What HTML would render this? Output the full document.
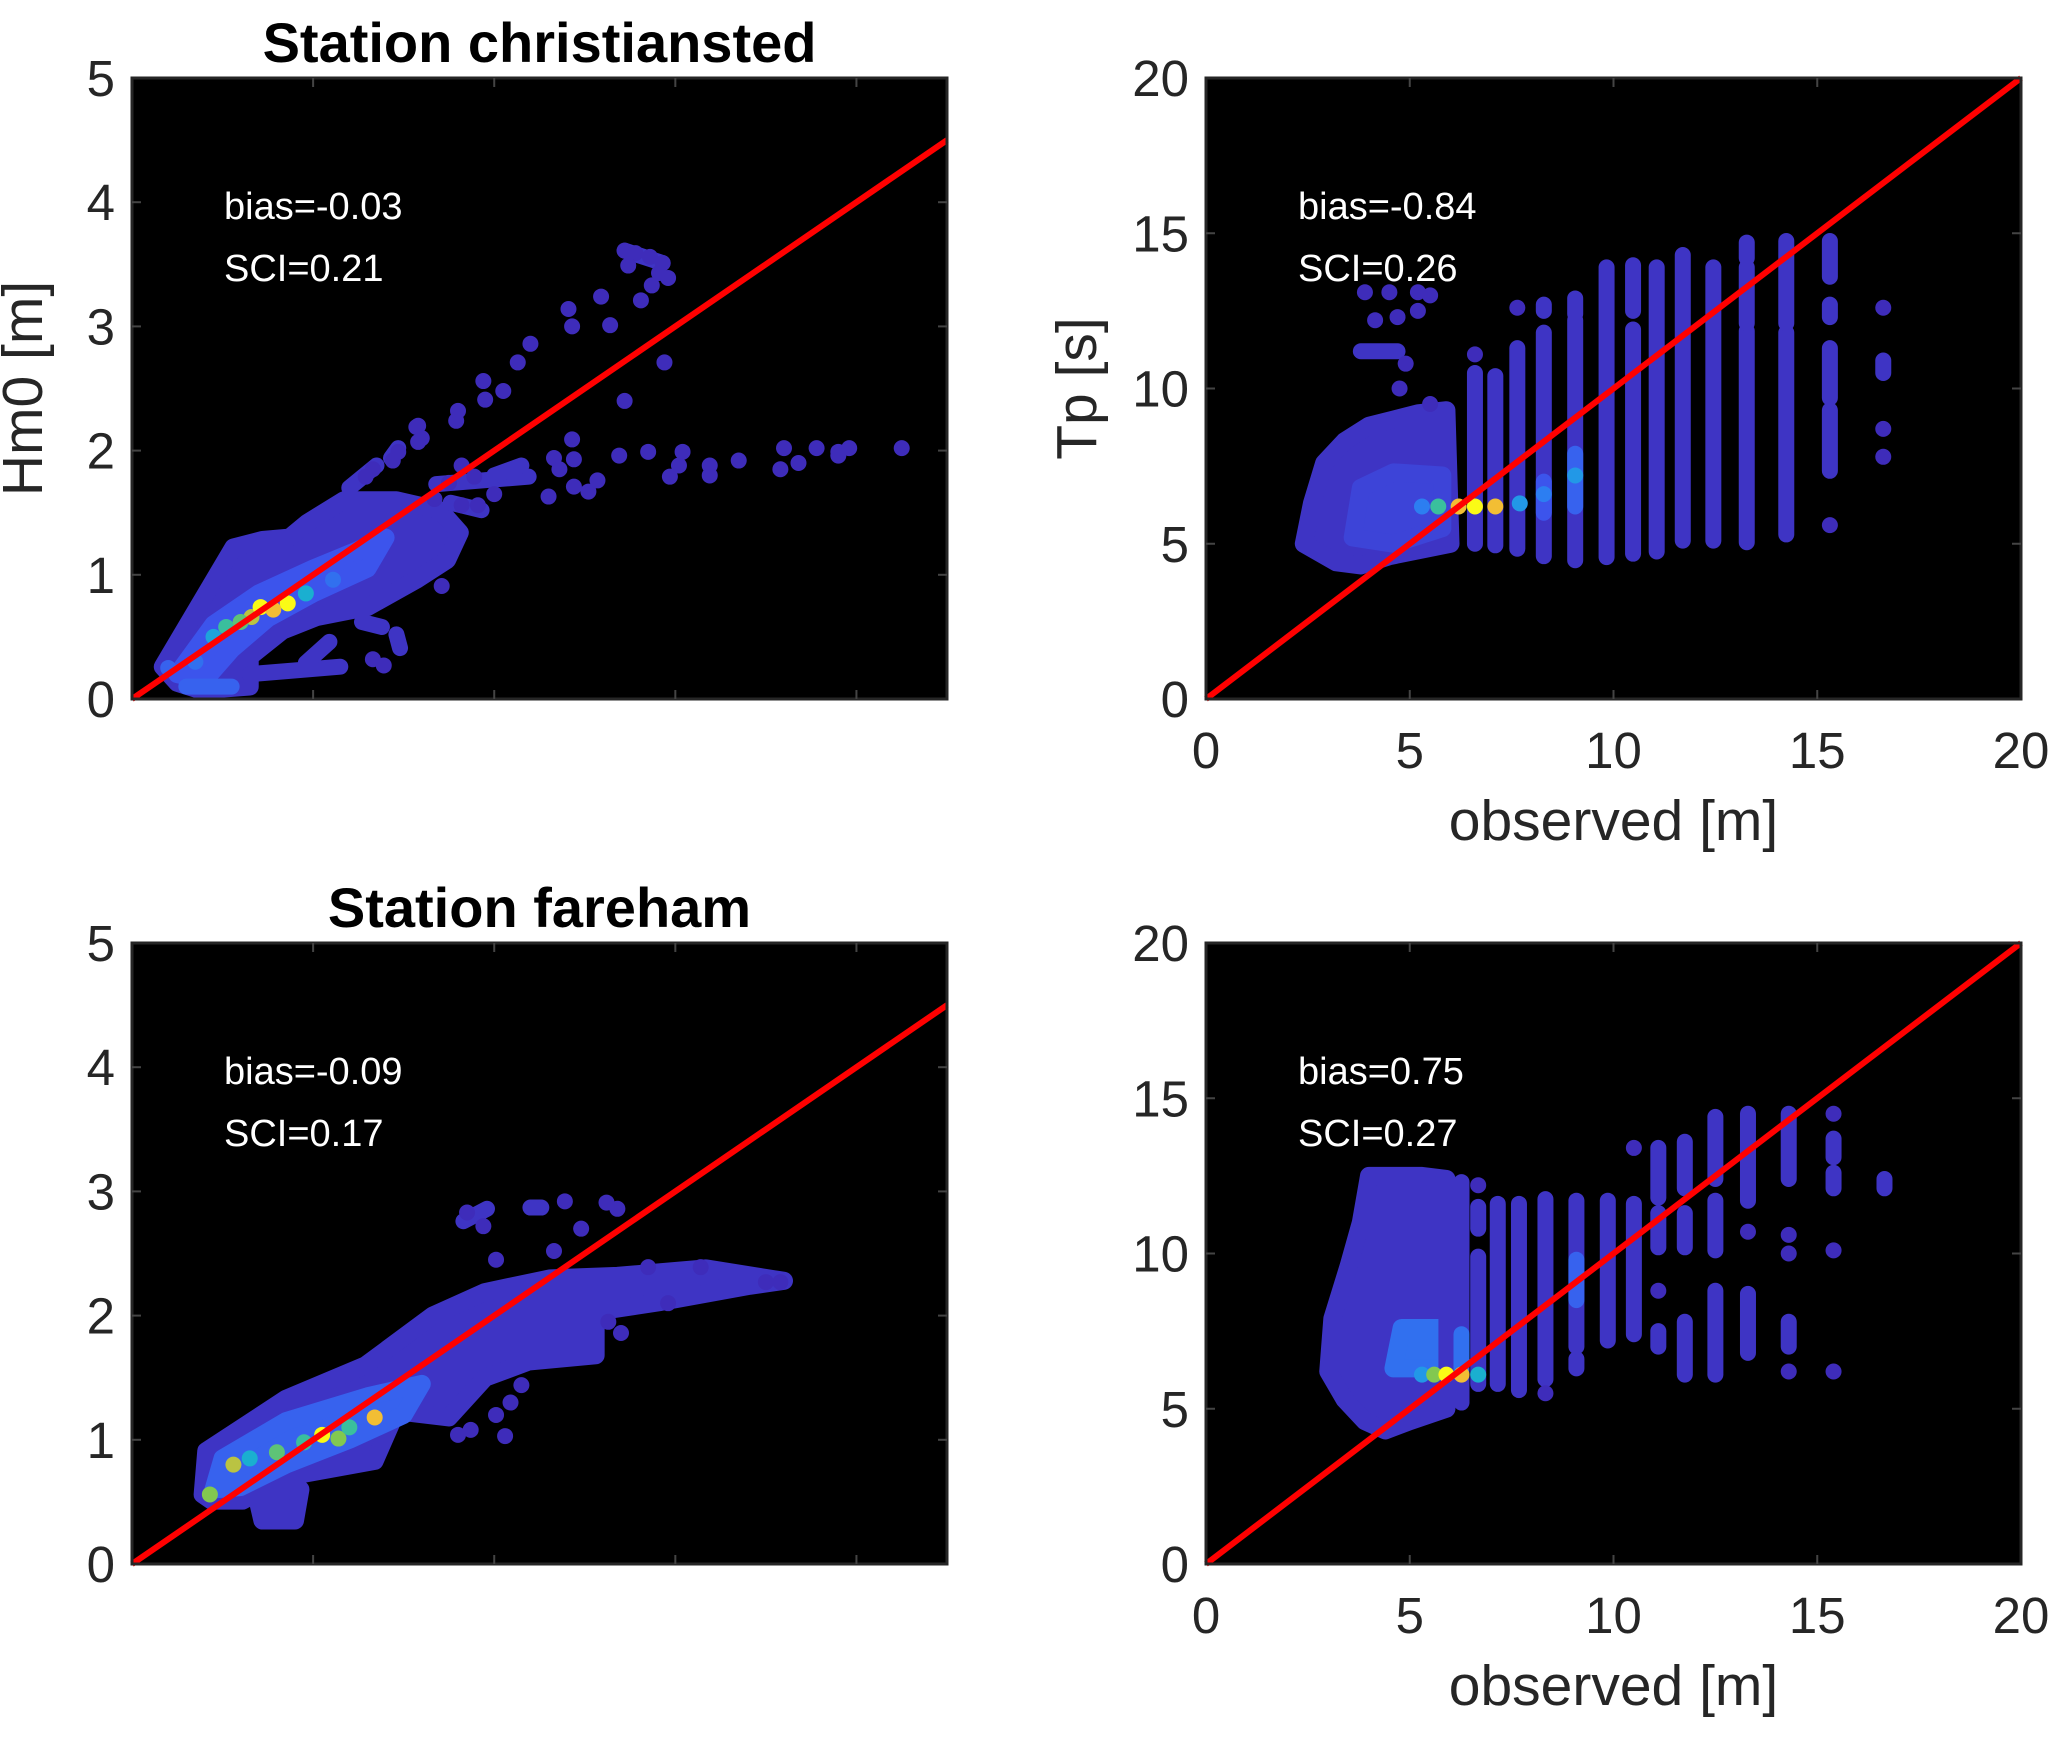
<!DOCTYPE html>
<html><head><meta charset="utf-8">
<style>
html,body{margin:0;padding:0;background:#fff;}
svg{display:block;font-family:"Liberation Sans",Arial,sans-serif;}
</style></head>
<body>
<svg id="fig" width="2067" height="1738" viewBox="0 0 2067 1738" xmlns="http://www.w3.org/2000/svg">
<rect x="0" y="0" width="2067" height="1738" fill="#fff"/>
</svg>
<script>
// ---------- data: top-left (Hm0, christiansted) ----------
const tlAreas = [
  [[0.17,0.26],[0.43,0.9],[0.56,1.22],[0.72,1.28],[0.87,1.3],[0.97,1.42],[1.17,1.6],[1.46,1.6],[1.7,1.52],[1.81,1.34],[1.74,1.12],[1.57,0.96],[1.3,0.74],[1.02,0.66],[0.83,0.55],[0.65,0.34],[0.65,0.1],[0.38,0.07],[0.25,0.13]],
];
const tlAreaC = [0.05];
const tlInner = [[[0.25,0.2],[0.45,0.6],[0.7,0.85],[1.0,1.05],[1.25,1.2],[1.4,1.3],[1.3,1.05],[1.0,0.85],[0.75,0.65],[0.55,0.4],[0.4,0.15]]];
const tlInnerC = [0.25];
const tlRuns = [
  [0.65,0.2,1.15,0.26,0.05],[0.96,0.29,1.09,0.46,0.05],[1.46,0.52,1.48,0.41,0.05],[1.27,0.62,1.38,0.58,0.05],
  [1.2,1.7,1.35,1.88,0.05],[1.43,1.94,1.47,2.02,0.05],[1.68,1.73,2.19,1.79,0.05],[1.76,1.58,1.93,1.52,0.05],
  [0.3,0.1,0.55,0.1,0.3],[2.72,3.61,2.93,3.51,0.05],[2.0,1.8,2.15,1.88,0.05]
];
const tlPts = [
  [2.72,3.61,0],[2.78,3.59,0],[2.74,3.49,0],[2.86,3.56,0],[2.93,3.51,0],[2.91,3.43,0],[2.96,3.39,0],[2.87,3.33,0],[2.81,3.21,0],
  [2.59,3.24,0],[2.41,3.14,0],[2.43,3.0,0],[2.64,3.01,0],[2.94,2.71,0],[2.72,2.4,0],[2.2,2.86,0],[2.13,2.71,0],[1.94,2.56,0],
  [1.95,2.41,0],[2.05,2.48,0],[1.8,2.32,0],[1.79,2.24,0],[1.57,2.19,0],[1.6,2.1,0],[1.47,1.99,0],[1.44,1.92,0],[1.33,1.85,0],[1.29,1.79,0],
  [2.43,2.09,0],[2.44,1.93,0],[2.33,1.94,0],[2.36,1.85,0],[2.3,1.63,0],[2.44,1.71,0],[2.52,1.67,0],[2.57,1.76,0],[2.69,1.96,0],
  [2.85,1.99,0],[3.04,1.99,0],[3.02,1.88,0],[2.97,1.79,0],[3.19,1.88,0],[3.19,1.8,0],[3.35,1.92,0],[3.58,1.85,0],[3.6,2.02,0],
  [3.68,1.9,0],[3.78,2.02,0],[3.9,1.99,0],[3.96,2.02,0],[4.25,2.02,0],[3.9,1.96,0],[1.82,1.88,0],[1.89,1.79,0],[1.75,1.74,0],
  [1.82,1.56,0],[1.91,1.56,0],[2.0,1.65,0],[1.67,1.61,0],[1.71,0.91,0],[1.39,0.27,0],[1.33,0.32,0],[1.58,2.07,0],[1.58,2.2,0],
  [0.52,0.58,0.7],[0.66,0.66,0.85],[0.71,0.74,1],[0.86,0.77,1],[0.78,0.72,0.9],[0.96,0.85,0.6],[1.11,0.96,0.35],[0.45,0.5,0.55],[0.6,0.62,0.75],[0.2,0.25,0.3],[0.35,0.3,0.35]
];
// ---------- data: top-right (Tp, christiansted) ----------
const trAreas = [[[2.4,5.0],[2.6,6.3],[2.9,7.6],[3.4,8.3],[4.0,8.8],[4.6,9.0],[5.2,9.2],[5.9,9.3],[6.0,5.0],[4.5,4.6],[3.8,4.3],[3.2,4.4]]];
const trAreaC = [0.05];
const trInner = [[[3.6,5.2],[3.8,6.8],[4.6,7.3],[5.8,7.2],[5.8,5.5],[4.6,5.0]]];
const trInnerC = [0.15];
const trRuns = [
  [6.6,5.0,6.6,10.5,0.05],[7.1,4.95,7.1,10.4,0.05],[7.64,4.84,7.64,11.3,0.05],[8.29,4.6,8.29,11.8,0.05],[8.29,12.5,8.29,12.7,0.05],
  [9.06,4.47,9.06,12.2,0.05],[9.06,12.4,9.06,12.9,0.05],[9.83,4.57,9.83,13.9,0.05],[10.48,4.68,10.48,11.9,0.05],[10.48,12.5,10.48,13.97,0.05],
  [11.06,4.75,11.06,13.9,0.05],[11.7,5.1,11.7,14.3,0.05],[12.45,5.1,12.45,13.9,0.05],[13.27,5.05,13.27,11.85,0.05],[13.27,12.1,13.27,13.9,0.05],
  [13.27,14.2,13.27,14.7,0.05],[14.24,5.3,14.24,11.8,0.05],[14.24,12.1,14.24,14.75,0.05],[15.31,13.6,15.31,14.75,0.05],[15.31,9.7,15.31,11.3,0.05],
  [15.31,7.35,15.31,9.3,0.05],[15.31,12.3,15.31,12.7,0.05],[16.62,10.5,16.62,10.9,0.05],[3.8,11.2,4.7,11.2,0.05],[9.06,6.2,9.06,7.9,0.3],[8.29,6.0,8.29,7.0,0.25]
];
const trPts = [
  [6.6,11.1,0],[7.64,12.6,0],[4.9,10.8,0],[4.75,10.0,0],[5.5,9.5,0],[4.7,12.3,0],[3.9,13.1,0],[4.5,13.1,0],[5.2,13.1,0],[5.5,13.0,0],
  [4.15,12.2,0],[5.2,12.5,0],[16.62,12.6,0],[16.62,8.7,0],[16.62,7.8,0],[15.31,5.6,0],
  [5.3,6.2,0.4],[5.7,6.2,0.7],[6.2,6.2,0.9],[6.6,6.2,1],[7.1,6.2,0.9],[7.7,6.3,0.5],[8.29,6.6,0.4],[9.06,7.2,0.5]
];
// ---------- data: bottom-left (Hm0, fareham) ----------
const blAreas = [
  [[0.39,0.56],[0.41,0.91],[0.85,1.33],[1.29,1.6],[1.66,2.0],[1.95,2.19],[2.31,2.3],[2.68,2.32],[3.17,2.38],[3.6,2.28],[3.41,2.24],[2.92,2.11],[2.56,2.03],[2.56,1.68],[2.19,1.63],[1.95,1.5],[1.75,1.18],[1.46,1.23],[1.34,0.83],[0.85,0.7],[0.61,0.51],[0.44,0.51]],
  [[0.68,0.6],[0.93,0.6],[0.9,0.35],[0.72,0.35]]
];
const blAreaC = [0.05,0.05];
const blInner = [[[0.45,0.6],[0.5,0.85],[0.85,1.15],[1.3,1.35],[1.6,1.45],[1.5,1.2],[1.2,1.0],[0.85,0.8],[0.6,0.62]]];
const blInnerC = [0.3];
const blRuns = [[1.83,2.76,1.96,2.86,0.05],[2.2,2.87,2.26,2.87,0.05]];
const blPts = [
  [1.85,2.83,0],[1.94,2.72,0],[2.39,2.92,0],[2.62,2.91,0],[2.68,2.86,0],[2.48,2.7,0],[2.33,2.52,0],[2.01,2.45,0],[2.85,2.39,0],
  [3.14,2.39,0],[3.58,2.27,0],[3.5,2.27,0],[2.7,1.86,0],[2.63,1.95,0],[2.06,1.03,0],[2.01,1.2,0],[1.8,1.04,0],[1.87,1.08,0],[2.09,1.3,0],[2.15,1.44,0],[2.96,2.1,0],
  [0.43,0.56,0.8],[0.56,0.8,0.85],[0.8,0.9,0.75],[1.05,1.04,1],[1.14,1.01,0.8],[1.34,1.18,0.9],[0.95,0.98,0.7],[1.2,1.1,0.7],[0.65,0.85,0.6]
];
// ---------- data: bottom-right (Tp, fareham) ----------
const brAreas = [[[3.0,6.2],[3.1,7.9],[3.5,9.6],[3.8,11.0],[4.0,12.5],[5.3,12.5],[5.9,12.4],[5.9,5.0],[5.0,4.6],[4.4,4.3],[3.9,4.6],[3.4,5.3]]];
const brAreaC = [0.05];
const brInner = [[[4.6,6.3],[4.8,7.6],[5.9,7.6],[5.9,6.3]]];
const brInnerC = [0.35];
const brRuns = [
  [5.9,5.6,5.9,12.4,0.05],[6.27,5.2,6.27,12.3,0.05],[6.68,10.8,6.68,11.5,0.05],[6.68,5.8,6.68,9.9,0.05],[7.16,5.8,7.16,11.6,0.05],
  [7.68,5.6,7.68,11.6,0.05],[8.33,5.95,8.33,11.75,0.05],[9.09,7.0,9.09,11.7,0.05],[9.09,6.3,9.09,6.6,0.05],[9.86,7.2,9.86,11.7,0.05],
  [10.5,7.4,10.5,11.6,0.05],[11.1,11.8,11.1,13.4,0.05],[11.1,10.2,11.1,11.3,0.05],[11.1,7.0,11.1,7.5,0.05],[11.75,12.1,11.75,13.6,0.05],
  [11.75,10.2,11.75,11.3,0.05],[11.75,6.1,11.75,7.8,0.05],[12.5,12.4,12.5,14.4,0.05],[12.5,10.1,12.5,11.7,0.05],[12.5,6.1,12.5,8.8,0.05],
  [13.3,11.7,13.3,14.5,0.05],[13.3,6.8,13.3,8.7,0.05],[14.3,12.4,14.3,14.5,0.05],[14.3,7.0,14.3,7.8,0.05],[15.4,12.1,15.4,12.6,0.05],
  [15.4,13.1,15.4,13.7,0.05],[16.65,12.1,16.65,12.4,0.05],[9.09,8.5,9.09,9.8,0.3],[6.27,6.3,6.27,7.4,0.35]
];
const brPts = [
  [6.68,12.2,0],[8.33,5.5,0],[10.5,13.4,0],[11.1,8.8,0],[13.3,10.7,0],[14.3,10.6,0],[14.3,10.0,0],[14.3,6.2,0],[15.4,14.5,0],[15.4,10.1,0],[15.4,6.2,0],
  [5.3,6.1,0.5],[5.6,6.1,0.8],[5.9,6.1,1],[6.27,6.1,0.9],[6.68,6.1,0.6]
];
// ---------- tick labels ----------
const hmTicks = [0,1,2,3,4,5];
const hmXTicks = [0,1,2,3,4];
const tpTicks = [0,5,10,15,20];

const NS = "http://www.w3.org/2000/svg";
const svg = document.getElementById('fig');
function mk(tag, attrs, parent){ const e=document.createElementNS(NS,tag); for(const k in attrs) e.setAttribute(k,attrs[k]); (parent||svg).appendChild(e); return e; }
const stops=[[0,[62,44,186]],[0.25,[60,84,236]],[0.45,[38,140,242]],[0.65,[22,186,196]],[0.8,[130,200,80]],[0.9,[242,190,52]],[1,[250,250,22]]];
function cmap(c){ for(let i=1;i<stops.length;i++){ if(c<=stops[i][0]){ const a=stops[i-1],b=stops[i],t=(c-a[0])/(b[0]-a[0]); const r=a[1].map((v,j)=>Math.round(v+(b[1][j]-v)*t)); return `rgb(${r[0]},${r[1]},${r[2]})`; } } return 'rgb(250,250,22)'; }

function panel(cfg){
  const {name,L,T,W,H,xmax,ymax,xt,yt,xlab,ylab,yoff,title,ann,areas,areaC,inner,innerC,runs,pts}=cfg;
  const g=mk('g',{});
  
  
  const sx=v=>L+v/xmax*W, sy=v=>T+H-v/ymax*H;
  const bg=mk('rect',{x:L,y:T,width:W,height:H,fill:'#000'},g);
  
  
  const drawAreas=(list,cols,nm)=>list.forEach((poly,i)=>{ const p=mk('polygon',{points:poly.map(q=>sx(q[0])+','+sy(q[1])).join(' '),fill:cmap(cols[i]),stroke:cmap(cols[i]),'stroke-width':18,'stroke-linejoin':'round'},g);
    
     });
  drawAreas(areas,areaC,'scatter-cluster');
  drawAreas(inner,innerC,'scatter-dense-core');
  runs.forEach(r=>{ const l=mk('line',{x1:sx(r[0]),y1:sy(r[1]),x2:sx(r[2]),y2:sy(r[3]),stroke:cmap(r[4]),'stroke-width':16,'stroke-linecap':'round'},g);
    
     });
  pts.forEach(p=>{ const c=mk('circle',{cx:sx(p[0]),cy:sy(p[1]),r:8,fill:cmap(p[2])},g);
    
     });
  const lim=Math.min(xmax,ymax);
  const ln=mk('line',{x1:sx(0),y1:sy(0),x2:sx(lim),y2:sy(lim),stroke:'#ff0000','stroke-width':6},g);
  
  
  const fr=mk('rect',{x:L,y:T,width:W,height:H,fill:'none',stroke:'#262626','stroke-width':3},g);
  
  
  xt.forEach(v=>{ if(v>0&&v<xmax){ mk('line',{x1:sx(v),y1:T+H,x2:sx(v),y2:T+H-9,stroke:'#444','stroke-width':2},g); mk('line',{x1:sx(v),y1:T,x2:sx(v),y2:T+9,stroke:'#444','stroke-width':2},g);} });
  yt.forEach(v=>{ if(v>0&&v<ymax){ mk('line',{x1:L,y1:sy(v),x2:L+9,y2:sy(v),stroke:'#444','stroke-width':2},g); mk('line',{x1:L+W,y1:sy(v),x2:L+W-9,y2:sy(v),stroke:'#444','stroke-width':2},g);} });
  yt.forEach(v=>{ const t=mk('text',{x:L-17,y:sy(v)+18,'text-anchor':'end','font-size':51,fill:'#262626'},g); t.textContent=v;
    
     });
  if(xlab){ xt.forEach(v=>{ const t=mk('text',{x:sx(v),y:T+H+69,'text-anchor':'middle','font-size':51,fill:'#262626'},g); t.textContent=v;
      
       });
    const xl=mk('text',{x:L+W/2,y:T+H+141,'text-anchor':'middle','font-size':57,fill:'#262626'},g); xl.textContent=xlab;
    
     }
  if(ylab){ const cx=L-yoff, cy=T+H/2; const yl=mk('text',{x:cx,y:cy,'text-anchor':'middle','font-size':57,fill:'#262626',transform:`rotate(-90 ${cx} ${cy})`},g); yl.textContent=ylab;
    
     }
  if(title){ const tt=mk('text',{x:L+W/2,y:T-16,'text-anchor':'middle','font-size':56,'font-weight':'bold',fill:'#000'},g); tt.textContent=title;
    
     }
  ann.forEach((s,i)=>{ const a=mk('text',{x:L+92,y:T+141+i*62,'font-size':38,fill:'#fff'},g); a.textContent=s;
    
     });
}
panel({name:'panel-hm0-christiansted',L:132,T:78,W:815,H:621,xmax:4.5,ymax:5,xt:hmXTicks,yt:hmTicks,xlab:null,ylab:'Hm0 [m]',yoff:90,title:'Station christiansted',ann:['bias=-0.03','SCI=0.21'],areas:tlAreas,areaC:tlAreaC,inner:tlInner,innerC:tlInnerC,runs:tlRuns,pts:tlPts});
panel({name:'panel-tp-christiansted',L:1206,T:78,W:815,H:621,xmax:20,ymax:20,xt:tpTicks,yt:tpTicks,xlab:'observed [m]',ylab:'Tp [s]',yoff:110,title:null,ann:['bias=-0.84','SCI=0.26'],areas:trAreas,areaC:trAreaC,inner:trInner,innerC:trInnerC,runs:trRuns,pts:trPts});
panel({name:'panel-hm0-fareham',L:132,T:943,W:815,H:621,xmax:4.5,ymax:5,xt:hmXTicks,yt:hmTicks,xlab:null,ylab:null,yoff:90,title:'Station fareham',ann:['bias=-0.09','SCI=0.17'],areas:blAreas,areaC:blAreaC,inner:blInner,innerC:blInnerC,runs:blRuns,pts:blPts});
panel({name:'panel-tp-fareham',L:1206,T:943,W:815,H:621,xmax:20,ymax:20,xt:tpTicks,yt:tpTicks,xlab:'observed [m]',ylab:null,yoff:110,title:null,ann:['bias=0.75','SCI=0.27'],areas:brAreas,areaC:brAreaC,inner:brInner,innerC:brInnerC,runs:brRuns,pts:brPts});
</script>
</body></html>
